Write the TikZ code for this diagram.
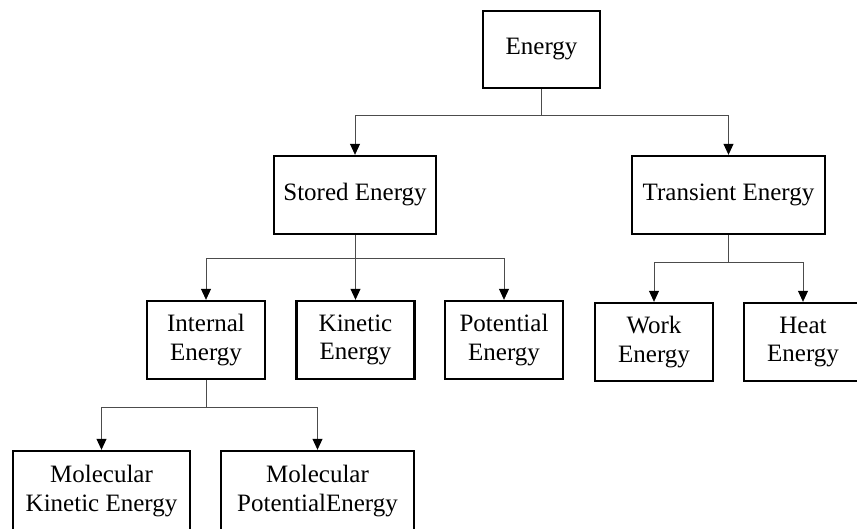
\documentclass[tikz,border=0pt]{standalone}
\usepackage{fontspec}
\setmainfont{Liberation Serif}
\usetikzlibrary{arrows.meta}
\newcommand{\boxline}{2.4pt}
\newcommand{\linkline}{0.8pt}
\tikzset{
  blk/.style={draw, line width=\boxline, align=center, inner sep=0pt,
    font=\fontsize{25}{28.5}\selectfont},
  link/.style={draw=black!70, line width=\linkline,
    -{Triangle[length=11pt,width=10pt,black]}},
  stem/.style={draw=black!70, line width=\linkline}
}

\begin{document}
\begin{tikzpicture}[x=1pt,y=-1pt]
    \useasboundingbox (0,0) rectangle (857,528);

%%%%        Boxes
%top
    \node[blk, minimum width=117pt, minimum height=77pt] (energy) at (541.5,49.5) {Energy};
%layer1
    \node[blk, minimum width=162pt, minimum height=78pt] (stored) at (355,195) {Stored Energy};
    \node[blk, minimum width=193pt, minimum height=78pt] (transient) at (728.5,195) {Transient Energy};
%layer2
    \foreach\n/\x/\t in {internal/206/Internal, kinetic/355.5/Kinetic, potential/504/Potential} {
        \node[blk, minimum width=118pt, minimum height=78pt] (\n) at (\x,340) {\t\\Energy};
    }
    \foreach\n/\x/\t in {work/654/Work, heat/803/Heat} {
        \node[blk, minimum width=118pt, minimum height=78pt] (\n) at (\x,342) {\t\\Energy};
    }
%layer3
    \node[blk, minimum width=177pt, minimum height=80pt] (mke) at (101.5,491) {Molecular\\Kinetic Energy};
    \node[blk, minimum width=193pt, minimum height=80pt] (mpe) at (317.5,491) {Molecular\\PotentialEnergy};

%%%%        Junctions
    \coordinate (j0) at (541.5,115);
    \coordinate (j1) at (355,258);
    \coordinate (j2) at (728.5,262);
    \coordinate (j3) at (206,407);

%%%%        Edges
    \foreach\v/\w in {energy/j0,stored/j1,transient/j2,internal/j3}
    {
        \draw[stem] (\v) -- (\w);
    }
    \foreach\v/\w in {j0/stored,j0/transient,j1/internal,j1/kinetic,j1/potential,j2/work,j2/heat,j3/mke,j3/mpe}
    {
        \draw[link] (\v) -| (\w);
    }
\end{tikzpicture}
\end{document}
